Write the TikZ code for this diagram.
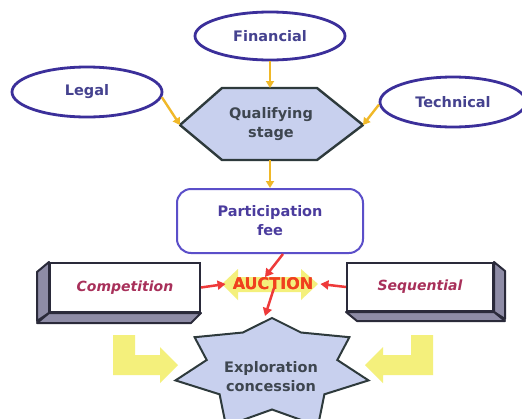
\documentclass[tikz,border=0pt]{standalone}
\usepackage{fontspec}
\setmainfont{DejaVu Sans}
\usetikzlibrary{shapes.geometric,arrows.meta,calc}

\definecolor{ovalline}{HTML}{3B2F9A}
\definecolor{ovaltext}{HTML}{45428F}
\definecolor{goldarrow}{HTML}{F0B828}
\definecolor{hexfill}{HTML}{C8D0EE}
\definecolor{hexline}{HTML}{2E3A3C}
\definecolor{greytext}{HTML}{3E4650}
\definecolor{feeline}{HTML}{5B4FC9}
\definecolor{feetext}{HTML}{4B3C9E}
\definecolor{boxline}{HTML}{2A2A3A}
\definecolor{boxside}{HTML}{8E8CA6}
\definecolor{boxtext}{HTML}{A8305A}
\definecolor{redarrow}{HTML}{EE3A3A}
\definecolor{auctext}{HTML}{F0401E}
\definecolor{paleyellow}{HTML}{F4F07C}

\tikzset{
  oval/.style={ellipse, draw=ovalline, line width=2.8pt, fill=white,
    minimum width=150pt, minimum height=48pt, text=ovaltext,
    font=\bfseries\fontsize{14.5}{19}\selectfont},
  goldline/.style={draw=goldarrow, line width=2.4pt,
    -{Triangle[length=7pt,width=8pt]}},
  redline/.style={draw=redarrow, line width=2.5pt,
    -{Triangle[length=8pt,width=9pt]}},
  cubefront/.style={draw=boxline, line width=2pt, fill=white,
    minimum width=150pt, minimum height=49pt, text=boxtext,
    font=\bfseries\itshape\fontsize{14}{17}\selectfont},
  cubeside/.style={draw=boxline, line width=2pt, fill=boxside, line join=round},
  twoline/.style={align=center, font=\bfseries\fontsize{14.5}{19}\selectfont},
}

\begin{document}
\begin{tikzpicture}[x=1pt,y=-1pt]
\useasboundingbox (0,0) rectangle (522,418);
\clip (0,0) rectangle (522,418);
\fill[white] (0,0) rectangle (522,418);

% entry criteria
\node[oval] (fin) at (270,36) {Financial};
\node[oval, minimum height=50pt] (leg) at (87,92) {Legal};
\node[oval, minimum width=146pt, minimum height=50pt] (tec) at (453,102) {Technical};

% qualifying stage hexagon
\coordinate (hxT) at (270,88);
\coordinate (hxL) at (180,125);
\coordinate (hxR) at (363,125);
\coordinate (hxB) at (270,160);
\draw[fill=hexfill, draw=hexline, line width=2.4pt, line join=round]
  (hxL) -- (222,88) -- (317,88) -- (hxR) -- (317,160) -- (222,160) -- cycle;
\node[twoline, text=greytext] (qual) at (271,124) {Qualifying\\stage};

\draw[goldline] (fin.south) -- (hxT);
\draw[goldline] (leg.-4) -- (hxL);
\draw[goldline] (tec.182) -- (hxR);

% participation fee
\node[draw=feeline, line width=2pt, rounded corners=14pt, fill=white,
  minimum width=186pt, minimum height=64pt, twoline, text=feetext]
  (part) at (270,221) {Participation\\fee};
\draw[goldline] (hxB) -- (part.north);

% side boxes
\node[cubefront] (comp) at (125,287.5) {Competition};
\draw[cubeside] (comp.north west) -- ++(-12,10) -- ++(0,49) -- (comp.south west) -- cycle;
\draw[cubeside] (comp.south west) -- ++(-12,10) -- ($(comp.south east)+(-10,10)$) -- (comp.south east) -- cycle;

\node[cubefront, minimum width=146pt, minimum height=48pt] (seq) at (420,287) {Sequential};
\draw[cubeside] (seq.north east) -- ++(11,9) -- ++(0,48) -- (seq.south east) -- cycle;
\draw[cubeside] (seq.south west) -- ++(11,9) -- ($(seq.south east)+(11,9)$) -- (seq.south east) -- cycle;

% auction hub
\fill[paleyellow] (222,284) -- (238,269) -- (238,277) -- (301,277) -- (301,269)
  -- (318,284) -- (301,300) -- (301,292) -- (238,292) -- (238,300) -- cycle;

\coordinate (pfOut) at (283,254);
\coordinate (aucIn) at (265,277);
\coordinate (aucOut) at (274,288);
\coordinate (starTop) at (265,316);
\node[inner sep=7pt, text=auctext, font=\bfseries\fontsize{16}{19}\selectfont]
  (auc) at (273,284) {AUCTION};
\draw[redline] (comp.east) -- (auc.west);
\draw[redline] (seq.west) -- (auc.east);
\draw[redline] (pfOut) -- (aucIn);
\draw[redline] (aucOut) -- (starTop);
\node[inner sep=7pt, text=auctext, font=\bfseries\fontsize{16}{19}\selectfont]
  at (auc) {AUCTION};

% exploration concession: seven-pointed star
\draw[fill=hexfill, draw=hexline, line width=2pt, line join=miter]
  (272,318) -- (301,332.5) -- (349.4,337.2) -- (337.3,360) -- (368.5,380.4)
  -- (324.4,394.3) -- (318,426) -- (272,409.5) -- (226,426) -- (219.6,394.3)
  -- (175.5,380.4) -- (206.7,360) -- (194.6,337.2) -- (242.9,332.5) -- cycle;
\node[twoline, text=greytext] (expl) at (271,377) {Exploration\\concession};

% bent arrows towards the concession
\fill[paleyellow] (113,335) -- (135,335) -- (135,355) -- (160,355) -- (160,347)
  -- (178,365) -- (160,383) -- (160,375) -- (113,375) -- cycle;
\fill[paleyellow] (433,335) -- (411,335) -- (411,355) -- (383,355) -- (383,347)
  -- (365,365) -- (383,383) -- (383,375) -- (433,375) -- cycle;
\end{tikzpicture}
\end{document}
